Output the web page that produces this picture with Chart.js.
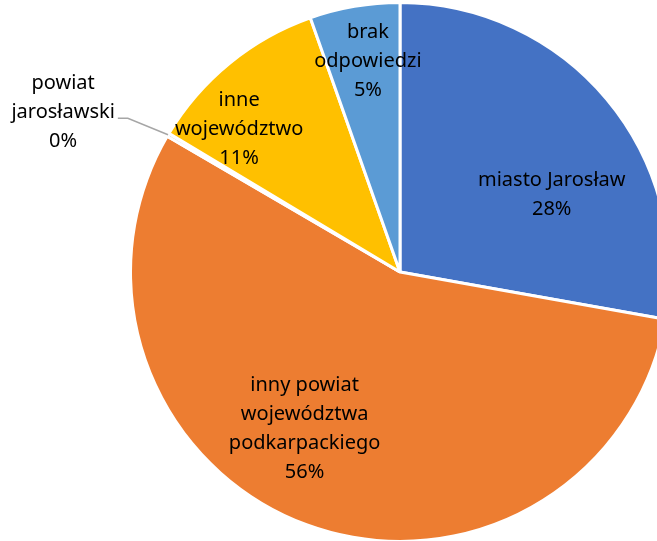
<!DOCTYPE html>
<html>
<head>
<meta charset="utf-8">
<script src="https://cdn.jsdelivr.net/npm/chart.js@4"></script>
<style>
  html, body { margin: 0; padding: 0; background: #fff; overflow: hidden; }
  #wrap { position: absolute; left: 0; top: 1px; width: 800px; height: 542px; }
</style>
</head>
<body>
<div id="wrap"><canvas id="originChart" width="800" height="542"></canvas></div>
<script>
// Data block
const originLabels = [
    ['miasto Jarosław'],
    ['inny powiat', 'województwa', 'podkarpackiego'],
    ['powiat', 'jarosławski'],
    ['inne', 'województwo'],
    ['brak', 'odpowiedzi']
];
const originShares = [27.8, 55.6, 0.2, 11.0, 5.4];
const originColors = ['#4472C4', '#ED7D31', '#A5A5A5', '#FFC000', '#5B9BD5'];

// Label placement plugin block (positions relative to pie center, in radius units)
const sliceLabels = {
    id: 'sliceLabels',
    afterDatasetsDraw(chart, args, opts) {
        const ctx = chart.ctx;
        const meta = chart.getDatasetMeta(0);
        const total = originShares.reduce((a, b) => a + b, 0);
        ctx.save();
        ctx.font = opts.font;
        ctx.fillStyle = '#000';
        ctx.textAlign = 'center';
        ctx.textBaseline = 'middle';
        meta.data.forEach((arc, i) => {
            const r = arc.outerRadius;
            const pos = opts.positions[i];
            const lines = originLabels[i].concat([Math.round(originShares[i] / total * 100) + '%']);
            const cx = arc.x + pos[0] * r;
            const cy = arc.y + pos[1] * r;
            const top = cy - (lines.length - 1) * opts.lineHeight / 2;
            lines.forEach((t, j) => ctx.fillText(t, cx, top + j * opts.lineHeight));
            if (opts.leaders.includes(i)) {
                // leader line from label to the slice edge
                const w = Math.max(...lines.map(t => ctx.measureText(t).width));
                const mid = (arc.startAngle + arc.endAngle) / 2;
                const ex = arc.x + Math.cos(mid) * r;
                const ey = arc.y + Math.sin(mid) * r;
                const sx = cx + w / 2 + 3;
                const sy = cy + 6;
                ctx.strokeStyle = '#A6A6A6';
                ctx.lineWidth = 1.5;
                ctx.beginPath();
                ctx.moveTo(sx, sy);
                ctx.lineTo(sx + 10, sy);
                ctx.lineTo(ex, ey);
                ctx.stroke();
            }
        });
        ctx.restore();
    }
};

// Config block
const originConfig = {
    type: 'pie',
    data: {
        labels: originLabels.map(l => l.join(' ')),
        datasets: [{
            data: originShares,
            backgroundColor: originColors,
            borderColor: '#fff',
            borderWidth: 3
        }]
    },
    options: {
        responsive: false,
        animation: false,
        layout: { padding: 0 },
        plugins: {
            legend: { display: false },
            tooltip: { enabled: false },
            sliceLabels: {
                font: '20px "Noto Sans", "Open Sans", sans-serif',
                lineHeight: 29,
                positions: [
                    [0.563, -0.287],
                    [-0.354, 0.580],
                    [-1.25, -0.593],
                    [-0.597, -0.530],
                    [-0.119, -0.780]
                ],
                leaders: [2]
            }
        }
    },
    plugins: [sliceLabels]
};

// render / init block
const originChart = new Chart(
    document.getElementById('originChart'),
    originConfig
);
</script>
</body>
</html>
